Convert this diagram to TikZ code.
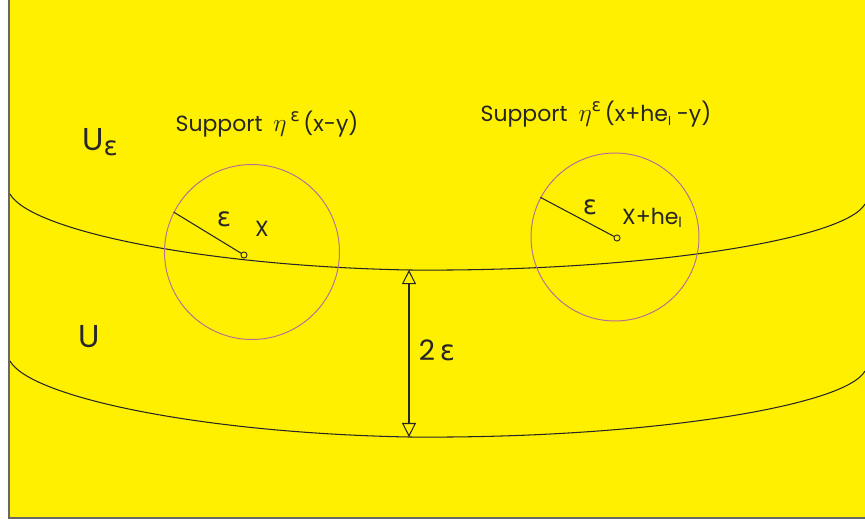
\documentclass[tikz,border=0pt]{standalone}
\usepackage{fontspec}
\setmainfont{Poppins}
\newfontfamily\grk{DejaVu Sans}
\usetikzlibrary{arrows.meta}
\definecolor{paper}{HTML}{FFF000}
\definecolor{ink}{HTML}{262626}
\definecolor{rim}{HTML}{B86E96}
\begin{document}
\begin{tikzpicture}[x=.02cm,y=-.02cm,font=\fontsize{12.5}{14}\selectfont,
 curve/.style={draw=ink,line width=.6pt},
 ball/.style={circle,draw=rim,line width=.55pt,minimum size=3.5cm,inner sep=0pt},
 rad/.style={draw=ink,line width=.6pt},
 dot/.style={circle,draw=ink,fill=paper,inner sep=0pt,minimum size=3.5pt,line width=.5pt},
 lbl/.style={inner sep=1pt,text=ink},
 gap/.style={{Triangle[open,length=8pt,width=8pt]}-{Triangle[open,length=8pt,width=8pt]},draw=ink,line width=.6pt}]
\path[use as bounding box] (0,0) rectangle (865,520);
\fill[paper] (9,0) rectangle (865,518);
\draw[ink!70,line width=.8pt] (9,0) -- (9,518) -- (865,518);
% boundary of U_eps and of U, one offset of 2 eps apart
\foreach \o in {0,167} {
 \draw[curve] (10,{194+\o}) .. controls (30,{230+\o}) and (200,{266+\o}) .. (409,{270+\o})
  .. controls (640,{272+\o}) and (845,{240+\o}) .. (865,{204+\o});
}
\coordinate (top) at (409,270);
\coordinate (bot) at (409,437);
\draw[gap] (top) -- (bot);
% supports of the two mollifiers
\node[ball] (suppX) at (252,252) {};
\node[ball,minimum size=3.36cm] (suppXh) at (615,237) {};
\node[dot] (x) at (244,255) {};
\node[dot] (xh) at (617,238) {};
\draw[rad] (x) -- (suppX.153);
\draw[rad] (xh) -- (suppXh.152);
\node[lbl,font=\fontsize{15}{16}\selectfont\grk] (epsX) at (224,219) {ε};
\node[lbl,font=\fontsize{12.5}{14}\selectfont] (labX) at (262,229) {X};
\node[lbl,font=\fontsize{15}{16}\selectfont\grk] (epsXh) at (590,207) {ε};
\node[lbl,font=\fontsize{12.5}{14}\selectfont] (labXh) at (652,218) {X+he\raisebox{-.3ex}{\fontsize{8}{8}\selectfont l}};
\node[lbl] (supp1) at (267,124) {Support\enspace{\Large$\eta$}\,\raisebox{.8ex}{\fontsize{10}{10}\selectfont\grk ε}\,(x-y)};
\node[lbl] (supp2) at (596,114) {Support\enspace{\Large$\eta$}\raisebox{.8ex}{\fontsize{10}{10}\selectfont\grk ε}\,(x+he\raisebox{-.3ex}{\fontsize{7}{7}\selectfont l} -y)};
\node[lbl,font=\fontsize{18}{20}\selectfont] (ueps) at (100,142) {U\raisebox{-.3ex}{\fontsize{15}{15}\selectfont\grk ε}};
\node[lbl,font=\fontsize{18}{20}\selectfont] (u) at (89,337) {U};
\node[lbl,font=\fontsize{16}{18}\selectfont] (twoeps) at (437,350) {2\,{\grk ε}};
\end{tikzpicture}
\end{document}
